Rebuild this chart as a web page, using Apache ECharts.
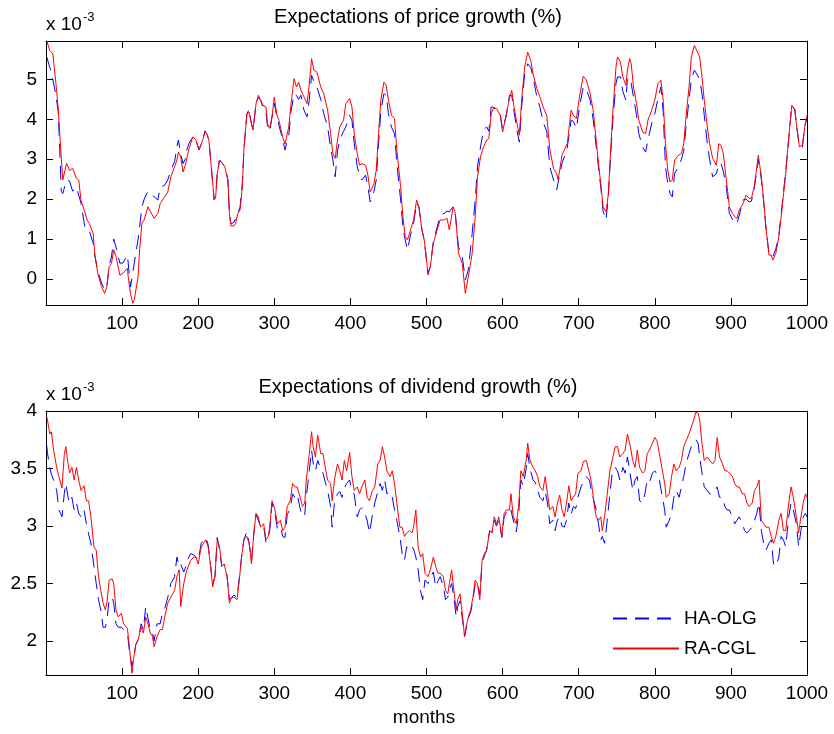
<!DOCTYPE html>
<html>
<head>
<meta charset="utf-8">
<script src="https://cdn.jsdelivr.net/npm/echarts@6/dist/echarts.min.js"></script>
<style>
html,body{margin:0;padding:0;background:#fff;}
#chart{width:834px;height:734px;}
</style>
</head>
<body>
<div id="chart"></div>
<script>
// Values are in units of 10^-3 (as shown by the "x 10^-3" axis multiplier)
const xTicks = [100, 200, 300, 400, 500, 600, 700, 800, 900, 1000];
const seriesNames = ['HA-OLG', 'RA-CGL'];
const titles = ['Expectations of price growth (%)', 'Expectations of dividend growth (%)'];

// Expectations of price growth, RA-CGL  [month, value x1e-3]
const priceRA = [[1,5.96],[5,5.72],[9,5.64],[13,4.9],[16,4.3],[18,3.64],[20,3.06],[22,2.48],[27,2.9],[31,2.72],[35,2.77],[40,2.52],[43,2.48],[46,1.97],[51,1.68],[54,1.48],[57,1.39],[62,1.14],[64,0.64],[68,0.14],[73,-0.19],[77,-0.36],[80,-0.19],[83,0.31],[86,0.39],[89,0.73],[92,0.56],[97,0.1],[101,0.14],[107,0.27],[108,0.06],[111,-0.36],[114,-0.61],[116,-0.52],[121,0.06],[123,0.73],[126,1.39],[129,1.48],[134,1.81],[136,1.73],[142,1.52],[147,1.64],[150,1.89],[156,2.06],[160,2.18],[164,2.56],[169,2.81],[172,2.98],[174,3.18],[177,3.06],[180,2.68],[183,2.85],[185,2.89],[188,3.27],[193,3.56],[197,3.48],[201,3.23],[206,3.48],[209,3.71],[212,3.6],[214,3.48],[218,2.64],[221,1.98],[223,2.06],[225,2.64],[228,2.98],[232,2.89],[235,2.81],[239,2.48],[241,1.64],[243,1.33],[247,1.33],[249,1.39],[252,1.64],[255,1.73],[258,2.31],[260,3.23],[264,4.14],[267,4.18],[269,3.98],[272,3.73],[276,4.39],[279,4.6],[282,4.48],[285,4.35],[289,4.31],[291,3.89],[294,3.77],[297,4.06],[300,4.56],[303,4.14],[306,3.98],[311,3.56],[314,3.38],[316,3.43],[319,3.81],[322,4.39],[326,5.02],[329,4.81],[332,4.93],[335,4.73],[339,4.56],[343,4.39],[346,4.89],[349,5.52],[352,5.23],[356,5.18],[361,4.81],[365,4.64],[370,4.23],[374,3.64],[377,3.14],[380,3.02],[383,3.48],[386,3.81],[391,3.98],[394,4.39],[399,4.52],[402,4.31],[405,3.64],[409,3.14],[412,2.85],[415,2.89],[420,2.85],[423,2.6],[426,2.18],[431,2.39],[434,2.73],[437,3.64],[440,4.48],[444,4.93],[447,4.85],[450,4.48],[454,4.1],[458,4.02],[461,3.23],[466,2.31],[469,1.56],[472,1.06],[475,0.98],[479,1.23],[483,1.48],[487,1.98],[490,1.81],[494,1.23],[497,0.98],[500,0.48],[502,0.1],[505,0.31],[509,0.89],[514,1.23],[518,1.48],[523,1.48],[527,1.52],[530,1.23],[535,1.81],[538,1.64],[542,0.64],[547,0.39],[551,-0.36],[555,0.06],[560,0.64],[564,1.56],[567,2.56],[571,3.06],[575,3.31],[579,3.48],[582,3.52],[585,4.14],[588,4.27],[592,4.27],[597,4.1],[600,3.68],[605,4.14],[609,4.52],[612,4.73],[615,4.31],[619,3.89],[622,3.6],[625,4.48],[629,5.31],[633,5.68],[637,5.48],[640,5.14],[645,4.77],[649,4.56],[654,4.27],[658,4.1],[662,3.25],[667,2.76],[671,2.64],[673,2.48],[678,3.1],[682,3.27],[685,3.39],[688,3.89],[690,4.23],[693,4.1],[697,4.02],[701,4.56],[706,5.08],[710,4.98],[715,4.64],[719,4.23],[723,3.48],[726,2.89],[729,2.39],[732,1.81],[736,1.68],[739,2.14],[742,3.23],[745,4.23],[749,5.31],[751,5.56],[755,5.43],[758,5.06],[762,4.85],[764,5.23],[767,5.52],[769,5.39],[772,4.81],[776,4.39],[779,3.98],[784,3.68],[788,3.64],[791,3.98],[796,4.23],[800,4.48],[804,4.89],[808,4.98],[811,4.48],[814,3.39],[817,2.73],[820,2.43],[823,2.48],[826,2.98],[831,3.1],[835,3.14],[838,3.39],[841,4.06],[845,4.81],[848,5.56],[852,5.85],[855,5.73],[859,5.56],[862,5.06],[865,4.48],[869,3.81],[872,3.39],[876,3.02],[881,2.85],[884,3.39],[887,3.35],[890,3.14],[894,2.48],[898,1.81],[902,1.64],[905,1.56],[908,1.52],[911,1.73],[916,1.89],[920,2.1],[924,2.02],[927,2.02],[931,2.35],[936,3.1],[940,2.56],[943,1.98],[946,1.31],[950,0.6],[953,0.6],[955,0.48],[959,0.64],[963,1.06],[967,1.73],[972,2.64],[976,3.56],[980,4.35],[984,4.23],[987,3.73],[990,3.31],[994,3.35],[997,3.81],[1000,4.1]];

// Expectations of price growth, HA-OLG
const priceHA = [[1,5.56],[5,5.3],[9,5.0],[13,4.6],[16,4.2],[18,3.3],[20,2.2],[22,2.14],[27,2.48],[31,2.45],[35,2.2],[40,2.3],[43,2.1],[46,1.9],[51,1.3],[54,1.3],[57,1.2],[62,0.9],[64,0.6],[68,0.2],[73,-0.1],[77,-0.27],[80,-0.2],[83,0.35],[86,0.55],[89,1.0],[92,0.8],[97,0.4],[101,0.4],[107,0.6],[108,0.4],[111,-0.2],[114,0.15],[116,0.4],[121,1.0],[123,1.3],[126,1.8],[129,2.0],[134,2.2],[136,2.2],[142,2.06],[147,1.98],[150,2.3],[156,2.35],[160,2.48],[164,2.72],[169,2.94],[172,3.31],[174,3.48],[177,3.14],[180,2.89],[183,3.0],[185,3.23],[188,3.4],[193,3.56],[197,3.48],[201,3.23],[206,3.48],[209,3.71],[212,3.6],[214,3.48],[218,2.64],[221,1.98],[223,2.06],[225,2.64],[228,2.98],[232,2.89],[235,2.81],[239,2.48],[241,1.64],[243,1.38],[247,1.42],[249,1.45],[252,1.64],[255,1.8],[258,2.4],[260,3.23],[264,4.14],[267,4.25],[269,3.98],[272,3.73],[276,4.39],[279,4.55],[282,4.48],[285,4.3],[289,4.2],[291,3.85],[294,3.7],[297,4.06],[300,4.4],[303,4.1],[306,3.85],[311,3.5],[314,3.23],[316,3.2],[319,3.6],[322,4.2],[326,4.64],[329,4.6],[332,4.5],[335,4.6],[339,4.23],[343,4.06],[346,4.5],[349,5.1],[352,4.95],[356,4.81],[361,4.5],[365,4.14],[370,3.81],[374,3.3],[377,2.98],[380,2.56],[383,3.2],[386,3.48],[391,3.7],[394,3.81],[399,4.1],[402,3.98],[405,3.4],[409,2.81],[412,2.6],[415,2.48],[420,2.6],[423,2.31],[426,1.93],[431,2.2],[434,2.48],[437,3.4],[440,4.2],[444,4.64],[447,4.6],[450,4.14],[454,3.8],[458,3.64],[461,2.9],[466,1.98],[469,1.3],[472,0.98],[475,0.73],[479,1.1],[483,1.4],[487,1.9],[490,1.81],[494,1.23],[497,0.98],[500,0.48],[502,0.15],[505,0.31],[509,0.95],[514,1.3],[518,1.6],[523,1.64],[527,1.7],[530,1.68],[535,1.81],[538,1.6],[542,0.81],[547,0.56],[551,-0.02],[555,0.23],[560,1.14],[564,1.98],[567,2.8],[571,3.31],[575,3.73],[579,3.81],[582,3.7],[585,4.31],[588,4.3],[592,4.27],[597,4.1],[600,3.75],[605,4.1],[609,4.6],[612,4.6],[615,4.2],[619,3.7],[622,3.43],[625,4.3],[629,5.14],[633,5.39],[637,5.3],[640,5.06],[645,4.56],[649,4.3],[654,3.89],[658,3.7],[662,2.81],[667,2.48],[671,2.23],[673,2.2],[678,2.9],[682,3.1],[685,3.3],[688,3.7],[690,3.98],[693,3.95],[697,3.77],[701,4.3],[706,4.81],[710,4.75],[715,4.48],[719,4.0],[723,3.31],[726,2.8],[729,2.3],[732,1.7],[736,1.48],[739,2.1],[742,3.1],[745,4.0],[749,4.9],[751,5.06],[755,5.06],[758,4.7],[762,4.48],[764,5.0],[767,5.06],[769,4.9],[772,4.56],[776,4.1],[779,3.64],[784,3.3],[788,3.18],[791,3.48],[796,3.9],[800,4.14],[804,4.5],[808,4.81],[811,4.2],[814,2.81],[817,2.4],[820,2.14],[823,2.06],[826,2.64],[831,2.81],[835,3.0],[838,3.2],[841,3.8],[845,4.48],[848,5.0],[852,5.23],[855,5.14],[859,5.0],[862,4.64],[865,4.1],[869,3.39],[872,3.0],[876,2.56],[881,2.64],[884,2.89],[887,2.9],[890,2.7],[894,2.3],[898,1.64],[902,1.5],[905,1.39],[908,1.39],[911,1.6],[916,1.98],[920,2.0],[924,1.93],[927,1.95],[931,2.3],[936,3.0],[940,2.5],[943,1.95],[946,1.3],[950,0.65],[953,0.62],[955,0.55],[959,0.75],[963,1.1],[967,1.8],[972,2.7],[976,3.5],[980,4.35],[984,4.25],[987,3.75],[990,3.31],[994,3.3],[997,3.8],[1000,4.05]];

// Expectations of dividend growth, RA-CGL
const divRA = [[1,3.95],[2,3.92],[5,3.80],[7,3.82],[10,3.66],[14,3.51],[17,3.43],[19,3.43],[21,3.33],[24,3.62],[26,3.69],[29,3.54],[31,3.46],[34,3.51],[37,3.4],[40,3.51],[43,3.4],[46,3.31],[50,3.35],[53,3.22],[56,3.22],[59,3.08],[63,2.82],[66,2.79],[69,2.56],[72,2.44],[75,2.33],[78,2.27],[80,2.33],[83,2.53],[87,2.54],[89,2.5],[92,2.27],[95,2.21],[99,2.24],[102,2.15],[107,2.11],[110,1.92],[113,1.72],[115,1.84],[118,1.97],[121,2.01],[125,2.12],[128,2.07],[131,2.21],[134,2.15],[137,2.07],[140,2.04],[142,1.95],[146,2.04],[150,2.1],[153,2.1],[156,2.21],[160,2.33],[164,2.38],[169,2.44],[172,2.56],[175,2.62],[177,2.3],[181,2.5],[184,2.59],[187,2.65],[190,2.7],[194,2.73],[197,2.73],[200,2.67],[204,2.82],[207,2.85],[210,2.88],[213,2.82],[216,2.67],[219,2.47],[222,2.56],[225,2.88],[228,2.82],[231,2.65],[234,2.67],[238,2.56],[241,2.33],[244,2.38],[247,2.38],[251,2.36],[254,2.53],[257,2.73],[260,2.88],[264,2.91],[267,2.85],[270,2.67],[273,2.93],[276,3.11],[279,3.08],[282,2.99],[286,3.02],[289,2.88],[292,2.91],[294,2.99],[297,3.22],[301,3.14],[304,3.02],[308,3.05],[311,2.96],[314,2.99],[317,3.17],[321,3.22],[324,3.37],[327,3.34],[330,3.34],[334,3.25],[337,3.17],[340,3.2],[342,3.4],[346,3.63],[349,3.82],[351,3.69],[354,3.6],[357,3.79],[361,3.63],[364,3.63],[367,3.51],[370,3.4],[374,3.37],[376,3.22],[379,3.4],[383,3.54],[386,3.48],[389,3.4],[392,3.57],[395,3.48],[399,3.64],[402,3.43],[405,3.31],[409,3.34],[412,3.28],[415,3.34],[419,3.4],[422,3.25],[425,3.22],[429,3.31],[432,3.34],[436,3.54],[439,3.57],[442,3.69],[445,3.6],[448,3.48],[452,3.43],[455,3.48],[458,3.37],[461,3.2],[465,2.99],[468,2.99],[471,2.91],[474,2.94],[478,2.96],[481,2.94],[483,2.99],[486,3.14],[489,2.82],[492,2.73],[495,2.76],[498,2.59],[502,2.56],[505,2.62],[509,2.73],[512,2.65],[515,2.59],[518,2.59],[522,2.56],[525,2.44],[528,2.41],[530,2.5],[533,2.62],[536,2.44],[539,2.27],[541,2.36],[544,2.41],[547,2.24],[550,2.04],[552,2.12],[555,2.21],[558,2.27],[561,2.38],[564,2.53],[567,2.5],[570,2.36],[573,2.7],[576,2.76],[579,2.79],[583,2.96],[586,2.94],[589,3.08],[592,3.02],[595,3.08],[599,2.91],[602,3.11],[605,3.14],[609,3.14],[611,3.28],[614,3.08],[618,3.02],[621,3.17],[624,3.48],[627,3.43],[631,3.57],[633,3.72],[636,3.57],[640,3.51],[643,3.48],[646,3.43],[649,3.34],[653,3.31],[656,3.43],[659,3.28],[662,3.14],[666,3.17],[669,3.08],[672,3.2],[675,3.27],[678,3.14],[681,3.08],[684,3.2],[687,3.35],[690,3.22],[693,3.25],[696,3.28],[699,3.46],[703,3.48],[706,3.56],[710,3.57],[714,3.46],[717,3.37],[720,3.2],[723,3.08],[726,3.05],[729,3.08],[731,2.96],[734,3.08],[737,3.25],[741,3.48],[744,3.57],[748,3.69],[751,3.69],[754,3.6],[758,3.63],[761,3.66],[764,3.8],[767,3.72],[771,3.57],[774,3.51],[777,3.66],[780,3.51],[784,3.46],[787,3.48],[790,3.63],[793,3.66],[797,3.72],[800,3.77],[803,3.74],[806,3.63],[810,3.48],[813,3.37],[815,3.25],[819,3.28],[822,3.43],[825,3.54],[828,3.48],[832,3.51],[835,3.57],[838,3.69],[841,3.74],[845,3.8],[848,3.86],[851,3.92],[854,3.99],[857,3.98],[859,3.92],[862,3.72],[865,3.57],[869,3.6],[872,3.57],[876,3.54],[879,3.57],[882,3.77],[885,3.6],[889,3.54],[892,3.48],[895,3.48],[898,3.46],[902,3.43],[905,3.37],[908,3.34],[911,3.34],[915,3.28],[918,3.28],[921,3.2],[924,3.17],[928,3.2],[931,3.31],[934,3.34],[937,3.4],[940,3.05],[943,3.02],[946,2.99],[950,2.99],[953,2.91],[956,2.85],[959,2.91],[963,3.05],[966,3.11],[969,2.96],[972,2.96],[976,3.2],[979,3.34],[982,3.25],[986,3.08],[989,2.94],[992,3.08],[995,3.2],[998,3.28],[1000,3.25]];

// Expectations of dividend growth, HA-OLG
const divHA = [[1,3.7],[2,3.63],[5,3.51],[7,3.45],[10,3.4],[14,3.31],[17,3.14],[19,3.11],[21,3.08],[24,3.28],[26,3.37],[29,3.25],[31,3.2],[34,3.25],[37,3.14],[40,3.2],[43,3.11],[46,3.08],[50,3.14],[53,3.02],[56,2.93],[59,2.85],[63,2.65],[66,2.5],[69,2.36],[72,2.27],[75,2.12],[78,2.12],[80,2.18],[83,2.36],[87,2.38],[89,2.33],[92,2.15],[95,2.12],[99,2.12],[102,2.1],[107,2.07],[110,1.89],[113,1.78],[115,1.84],[118,1.97],[121,2.01],[125,2.15],[128,2.1],[131,2.3],[134,2.2],[137,2.1],[140,2.07],[142,2.0],[146,2.15],[150,2.15],[153,2.24],[156,2.28],[160,2.38],[164,2.5],[169,2.56],[172,2.73],[175,2.65],[177,2.67],[181,2.6],[184,2.65],[187,2.72],[190,2.76],[194,2.75],[197,2.73],[200,2.7],[204,2.85],[207,2.88],[210,2.9],[213,2.84],[216,2.67],[219,2.5],[222,2.56],[225,2.9],[228,2.8],[231,2.65],[234,2.67],[238,2.56],[241,2.36],[244,2.38],[247,2.4],[251,2.38],[254,2.55],[257,2.73],[260,2.88],[264,2.95],[267,2.85],[270,2.7],[273,2.93],[276,3.1],[279,3.05],[282,2.99],[286,3.0],[289,2.86],[292,2.9],[294,2.96],[297,3.2],[301,3.1],[304,2.98],[308,3.0],[311,2.91],[314,2.9],[317,3.1],[321,3.15],[324,3.28],[327,3.25],[330,3.28],[334,3.15],[337,3.08],[340,3.1],[342,3.25],[346,3.48],[349,3.66],[351,3.55],[354,3.48],[357,3.57],[361,3.5],[364,3.46],[367,3.38],[370,3.31],[374,3.17],[376,2.99],[379,3.2],[383,3.28],[386,3.3],[389,3.25],[392,3.33],[395,3.37],[399,3.4],[402,3.3],[405,3.28],[409,3.08],[412,3.14],[415,3.16],[419,3.11],[422,3.05],[425,2.94],[429,3.1],[432,3.2],[436,3.3],[439,3.37],[442,3.31],[445,3.4],[448,3.28],[452,3.3],[455,3.25],[458,3.14],[461,3.05],[465,2.91],[468,2.76],[471,2.7],[474,2.82],[478,2.79],[481,2.82],[483,2.8],[486,2.73],[489,2.62],[492,2.44],[495,2.36],[498,2.53],[502,2.5],[505,2.55],[509,2.6],[512,2.47],[515,2.52],[518,2.56],[522,2.48],[525,2.36],[528,2.38],[530,2.45],[533,2.5],[536,2.38],[539,2.21],[541,2.3],[544,2.35],[547,2.2],[550,2.04],[552,2.1],[555,2.2],[558,2.25],[561,2.35],[564,2.5],[567,2.52],[570,2.4],[573,2.68],[576,2.74],[579,2.79],[583,2.96],[586,2.94],[589,3.05],[592,3.0],[595,3.05],[599,2.9],[602,3.08],[605,3.12],[609,3.1],[611,3.14],[614,3.05],[618,2.95],[621,3.1],[624,3.4],[627,3.35],[631,3.5],[633,3.63],[636,3.5],[640,3.4],[643,3.38],[646,3.31],[649,3.25],[653,3.22],[656,3.3],[659,3.2],[662,3.02],[666,3.05],[669,2.96],[672,3.05],[675,3.08],[678,3.0],[681,2.99],[684,3.05],[687,3.2],[690,3.1],[693,3.17],[696,3.15],[699,3.25],[703,3.34],[706,3.38],[710,3.43],[714,3.4],[717,3.3],[720,3.22],[723,3.14],[726,3.02],[729,2.88],[731,2.91],[734,2.85],[737,3.02],[741,3.28],[744,3.46],[748,3.51],[751,3.48],[754,3.4],[758,3.51],[761,3.46],[764,3.6],[767,3.48],[771,3.31],[774,3.4],[777,3.43],[780,3.22],[784,3.2],[787,3.28],[790,3.4],[793,3.38],[797,3.46],[800,3.48],[803,3.45],[806,3.4],[810,3.25],[813,3.14],[815,2.99],[819,3.05],[822,3.11],[825,3.25],[828,3.31],[832,3.25],[835,3.34],[838,3.43],[841,3.54],[845,3.63],[848,3.69],[851,3.72],[854,3.75],[857,3.72],[859,3.6],[862,3.46],[865,3.34],[869,3.31],[872,3.28],[876,3.28],[879,3.31],[882,3.34],[885,3.25],[889,3.25],[892,3.17],[895,3.14],[898,3.14],[902,3.08],[905,3.02],[908,3.05],[911,3.08],[915,3.02],[918,2.96],[921,2.94],[924,2.96],[928,2.99],[931,3.05],[934,3.11],[937,3.2],[940,2.96],[943,2.85],[946,2.79],[950,2.85],[953,2.88],[956,2.67],[959,2.65],[963,2.73],[966,2.91],[969,2.88],[972,2.82],[976,3.08],[979,3.2],[982,3.14],[986,3.02],[989,2.82],[992,2.96],[995,3.08],[998,3.11],[1000,3.08]];

// axis ranges (x 10^-3)
const priceRange = [-0.65, 5.96];
const divRange = [1.705, 4.0];

const FONT = 'Arial, "Liberation Sans", Helvetica, sans-serif';
const chart = echarts.init(document.getElementById('chart'), null, {renderer: 'canvas'});

const gridPos = [
  {left: 46, right: 27, top: 41, height: 264},
  {left: 46, right: 27, top: 411, height: 264}
];

function xAx(gi, pos, labels) {
  return {
    type: 'value', gridIndex: gi, position: pos, min: 0, max: 1000, interval: 100,
    axisLine: {show: true, onZero: false, lineStyle: {color: '#000', width: 1}},
    axisTick: {show: true, inside: true, length: 7, lineStyle: {color: '#000'}},
    axisLabel: {show: labels, showMinLabel: false, color: '#000', fontSize: 19, fontFamily: FONT, margin: 9,
                formatter: v => (xTicks.indexOf(v) >= 0 ? String(v) : '')},
    splitLine: {show: false}
  };
}
function yAx(gi, pos, range, labels, showMax) {
  return {
    type: 'value', gridIndex: gi, position: pos, min: range[0], max: range[1], splitNumber: 5,
    axisLine: {show: true, onZero: false, lineStyle: {color: '#000', width: 1}},
    axisTick: {show: true, inside: true, length: 7, lineStyle: {color: '#000'}},
    axisLabel: {show: labels, showMinLabel: false, showMaxLabel: showMax, color: '#000', fontSize: 19, fontFamily: FONT, margin: 9},
    splitLine: {show: false}
  };
}

function lineSeries(name, data, xi, yi, isDash) {
  return {
    name: name, type: 'line', xAxisIndex: xi, yAxisIndex: yi, data: data,
    symbol: 'none', showSymbol: false, smooth: false, animation: false,
    lineStyle: isDash ? {color: '#0000ff', width: 1, type: [14, 8]} : {color: '#ff0000', width: 1, type: 'solid'},
    itemStyle: {color: isDash ? '#0000ff' : '#ff0000'},
    emphasis: {disabled: true}
  };
}

const option = {
  animation: false,
  backgroundColor: '#ffffff',
  textStyle: {fontFamily: FONT},
  grid: gridPos.map(g => Object.assign({containLabel: false}, g)),
  xAxis: [xAx(0, 'bottom', true), xAx(0, 'top', false), xAx(1, 'bottom', true), xAx(1, 'top', false)],
  yAxis: [yAx(0, 'left', priceRange, true, false), yAx(0, 'right', priceRange, false, false),
          yAx(1, 'left', divRange, true, true), yAx(1, 'right', divRange, false, true)],
  legend: {
    data: seriesNames, orient: 'vertical', left: 607, top: 604,
    itemWidth: 66, itemHeight: 20, itemGap: 11,
    itemStyle: {opacity: 0},
    textStyle: {fontSize: 19, color: '#000', fontFamily: FONT},
    selectedMode: false
  },
  series: [
    lineSeries(seriesNames[0], priceHA, 0, 0, true),
    lineSeries(seriesNames[1], priceRA, 0, 0, false),
    lineSeries(seriesNames[0], divHA, 2, 2, true),
    lineSeries(seriesNames[1], divRA, 2, 2, false)
  ],
  graphic: [
    {type: 'text', x: 418, y: 17, silent: true,
     style: {text: titles[0], fill: '#000', font: '20px ' + FONT, align: 'center', verticalAlign: 'middle'}},
    {type: 'text', x: 418, y: 387, silent: true,
     style: {text: titles[1], fill: '#000', font: '20px ' + FONT, align: 'center', verticalAlign: 'middle'}},
    {type: 'text', x: 46, y: 25, silent: true, style: {text: 'x 10', fill: '#000', font: '19px ' + FONT, verticalAlign: 'middle'}},
    {type: 'text', x: 83, y: 17, silent: true, style: {text: '-3', fill: '#000', font: '13px ' + FONT, verticalAlign: 'middle'}},
    {type: 'text', x: 46, y: 395, silent: true, style: {text: 'x 10', fill: '#000', font: '19px ' + FONT, verticalAlign: 'middle'}},
    {type: 'text', x: 83, y: 387, silent: true, style: {text: '-3', fill: '#000', font: '13px ' + FONT, verticalAlign: 'middle'}},
    {type: 'text', x: 424, y: 718, silent: true, style: {text: 'months', fill: '#000', font: '19px ' + FONT, align: 'center', verticalAlign: 'middle'}}
  ]
};
chart.setOption(option);
</script>
</body>
</html>
